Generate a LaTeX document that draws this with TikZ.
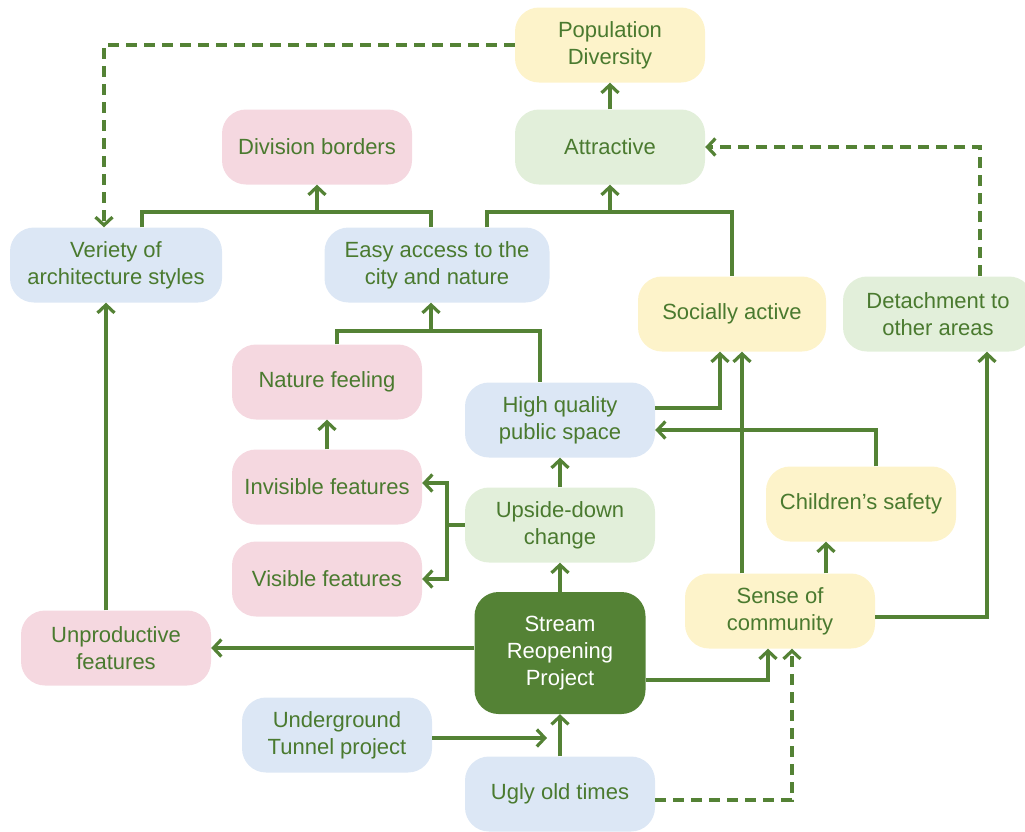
\documentclass[tikz,border=0pt]{standalone}
\usepackage{fontspec}
\setmainfont{Liberation Sans}
\usetikzlibrary{arrows.meta}
\definecolor{lineg}{HTML}{548235}
\definecolor{textg}{HTML}{4A7A2F}
\definecolor{pinkf}{HTML}{F5D8E0}
\definecolor{bluef}{HTML}{DCE7F5}
\definecolor{yellf}{HTML}{FDF3CA}
\definecolor{greenf}{HTML}{E2EFDA}
\tikzset{
  box/.style={rounded corners=24pt, minimum width=190pt, minimum height=75pt,
    align=center, text=textg, font=\fontsize{22}{27}\selectfont, inner sep=2pt},
  pinkbox/.style={box, fill=pinkf},
  bluebox/.style={box, fill=bluef},
  yellbox/.style={box, fill=yellf},
  greenbox/.style={box, fill=greenf},
  darkbox/.style={box, fill=lineg, text=white, minimum width=171pt, minimum height=122pt},
  ln/.style={draw=lineg, line width=3.2pt},
  ar/.style={ln, -{Straight Barb[length=8pt, width=17pt, line width=3.2pt]}},
  dar/.style={ar, dash pattern=on 11pt off 7pt},
}
\begin{document}
\begin{tikzpicture}[x=1pt, y=-1pt]
\useasboundingbox (0,0) rectangle (1025,831);

% boxes
\node[yellbox]  (pop) at (610,45)  {Population\\Diversity};
\node[greenbox] (att) at (610,147) {Attractive};
\node[pinkbox]  (div) at (317,147) {Division borders};
\node[bluebox, minimum width=212pt] (ver) at (116,265) {Veriety of\\architecture styles};
\node[bluebox, minimum width=225pt] (eas) at (437,265) {Easy access to the\\city and nature};
\node[yellbox, minimum width=188pt] (soc) at (732,314) {Socially active};
\node[greenbox] (det) at (938,314) {Detachment to\\other areas};
\node[pinkbox]  (nat) at (327,382) {Nature feeling};
\node[bluebox]  (hqp) at (560,420) {High quality\\public space};
\node[pinkbox]  (inv) at (327,487) {Invisible features};
\node[greenbox] (ups) at (560,525) {Upside-down\\change};
\node[pinkbox]  (vis) at (327,579) {Visible features};
\node[yellbox]  (chi) at (861,504) {Children’s safety};
\node[yellbox]  (sen) at (780,611) {Sense of\\community};
\node[pinkbox]  (unp) at (116,648) {Unproductive\\features};
\node[darkbox]  (str) at (560,653) {Stream\\Reopening\\Project};
\node[bluebox]  (und) at (337,735) {Underground\\Tunnel project};
\node[bluebox]  (ugl) at (560,794) {Ugly old times};

% junction points of merged connectors
\coordinate (jatt) at (610,212);
\coordinate (jdiv) at (317,212);
\coordinate (jeas) at (431,331);
\coordinate (jups) at (447,525);
\coordinate (jtun) at (547,738);

% solid connectors
\draw[ar] (att) -- (pop);
\draw[ln] ([xshift=50pt]eas.north) |- (jatt) -| (soc.north);
\draw[ar] (jatt) -- (att.south);
\draw[ln] ([xshift=26pt]ver.north) |- (jdiv) -| ([xshift=-6pt]eas.north);
\draw[ar] (jdiv) -- (div.south);
\draw[ln] ([xshift=10pt]nat.north) |- (jeas) -| ([xshift=-20pt]hqp.north);
\draw[ar] (jeas) -- ([xshift=-6pt]eas.south);
\draw[ar] ([yshift=12pt]hqp.east) -| ([xshift=-12pt]soc.south);
\draw[ar] ([xshift=-38pt]sen.north) -- ([xshift=10pt]soc.south);
\draw[ar] ([xshift=15pt]chi.north) |- ([yshift=-10pt]hqp.east);
\draw[ar] ([xshift=46pt]sen.north) -- ([xshift=-35pt]chi.south);
\draw[ar] ([yshift=-6pt]sen.east) -| ([xshift=49pt]det.south);
\draw[ar] (inv) -- (nat);
\draw[ln] (ups.west) -- (jups);
\draw[ar] (jups) |- ([yshift=4pt]inv.east);
\draw[ar] (jups) |- (vis.east);
\draw[ar] (ups) -- (hqp);
\draw[ar] (str) -- (ups);
\draw[ar] ([yshift=5pt]str.west) -- (unp.east);
\draw[ar] ([xshift=-10pt]unp.north) -- ([xshift=-10pt]ver.south);
\draw[ar] ([yshift=-27pt]str.east) -| ([xshift=-12pt]sen.south);
\draw[ar] (ugl) -- (str);
\draw[ar] ([yshift=-3pt]und.east) -- (jtun);

% dashed connectors
\draw[dar] (pop.west) -| ([xshift=-12pt]ver.north);
\draw[dar] ([xshift=42pt]det.north) |- (att.east);
\draw[dar] ([yshift=-6pt]ugl.east) -| ([xshift=12pt]sen.south);
\end{tikzpicture}
\end{document}
